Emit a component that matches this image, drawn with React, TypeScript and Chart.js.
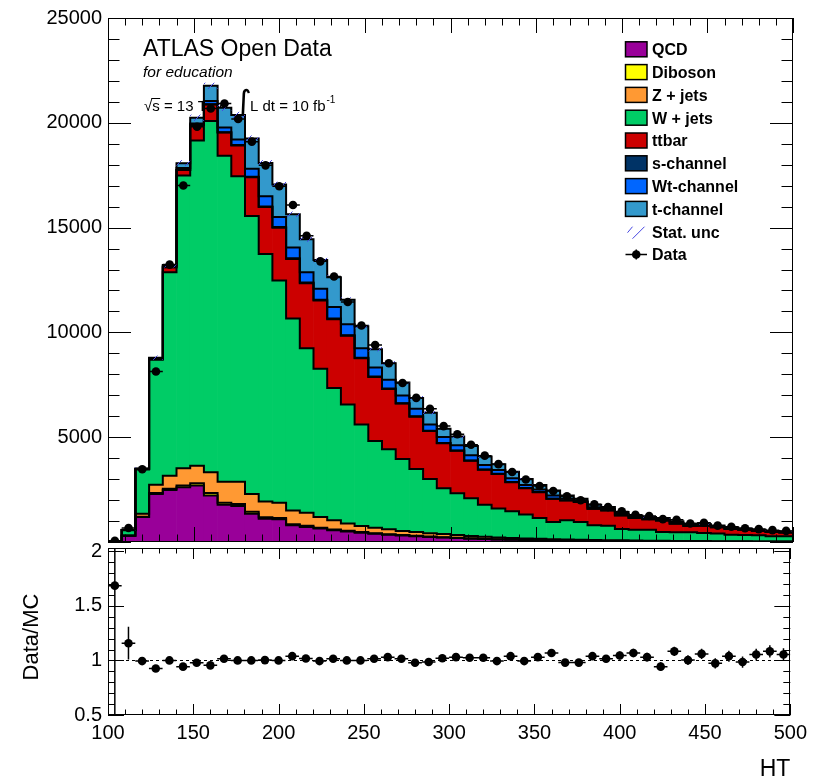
import React, { useEffect, useRef } from "react";
import { Chart, registerables } from "chart.js";

Chart.register(...registerables);

// ---------------- data ----------------
const HT_CENTERS = [
  104, 112, 120, 128, 136, 144, 152, 160, 168, 176,
  184, 192, 200, 208, 216, 224, 232, 240, 248, 256,
  264, 272, 280, 288, 296, 304, 312, 320, 328, 336,
  344, 352, 360, 368, 376, 384, 392, 400, 408, 416,
  424, 432, 440, 448, 456, 464, 472, 480, 488, 496,
];

const QCD = [
  20, 293, 1190, 2296, 2486, 2612, 2690, 2216, 1776, 1714,
  1350, 1113, 1080, 795, 720, 640, 560, 500, 445, 395,
  350, 310, 275, 240, 210, 185, 160, 140, 122, 106,
  92, 80, 70, 61, 53, 46, 40, 35, 30, 26,
  23, 20, 17, 15, 13, 11, 10, 9, 8, 7,
];
const DIBOSON = [
  0, 5, 15, 40, 60, 80, 110, 120, 100, 100,
  90, 70, 65, 55, 50, 45, 40, 35, 30, 28,
  25, 22, 20, 18, 16, 15, 13, 12, 11, 10,
  9, 8, 8, 7, 7, 6, 6, 5, 5, 5,
  4, 4, 4, 3, 3, 3, 3, 3, 2, 2,
];
const ZJETS = [
  3, 15, 145, 400, 617, 821, 837, 988, 1004, 1066,
  856, 749, 725, 656, 627, 508, 432, 345, 285, 257,
  235, 198, 185, 162, 154, 130, 117, 98, 87, 79,
  69, 62, 57, 52, 48, 45, 42, 40, 37, 34,
  31, 28, 26, 24, 22, 20, 18, 16, 15, 14,
];
const WJETS = [
  12, 247, 2110, 5963, 9707, 13967, 15513, 16766, 15550, 14570,
  13259, 11808, 10605, 9159, 7843, 7067, 6318, 5678, 4851, 4140,
  3817, 3424, 3000, 2587, 2186, 2000, 1800, 1525, 1380, 1275,
  1140, 1000, 820, 920, 847, 698, 682, 540, 508, 515,
  422, 413, 413, 388, 372, 306, 299, 292, 255, 252,
];
const TTBAR = [
  0, 8, 20, 45, 237, 265, 744, 786, 1103, 1468,
  1846, 2239, 2523, 2841, 3106, 3267, 3281, 3281, 3158, 3050,
  2874, 2651, 2496, 2287, 2145, 2020, 1785, 1675, 1645, 1380,
  1255, 1225, 1105, 940, 950, 790, 735, 650, 565, 500,
  540, 410, 305, 340, 295, 285, 250, 205, 195, 175,
];
const SCHAN = [
  0, 1, 2, 4, 6, 8, 10, 14, 18, 22,
  26, 28, 30, 30, 30, 30, 30, 28, 26, 24,
  22, 20, 18, 16, 14, 13, 12, 11, 10, 9,
  8, 7, 6, 6, 5, 5, 4, 4, 4, 3,
  3, 3, 3, 2, 2, 2, 2, 2, 2, 2,
];
const WTCHAN = [
  0, 4, 8, 16, 50, 86, 65, 147, 219, 262,
  386, 493, 477, 519, 491, 524, 553, 526, 448, 430,
  419, 359, 360, 301, 285, 254, 256, 209, 178, 181,
  149, 118, 150, 90, 60, 70, 60, 60, 48, 44,
  48, 42, 42, 35, 33, 29, 27, 25, 21, 19,
];
const TCHAN = [
  0, 6, 15, 30, 57, 237, 270, 725, 947, 1170,
  1437, 1577, 1548, 1582, 1581, 1373, 1420, 1170, 1056, 871,
  791, 630, 521, 554, 397, 413, 442, 410, 282, 315,
  283, 220, 239, 139, 90, 115, 96, 96, 73, 68,
  74, 65, 65, 53, 50, 44, 41, 38, 32, 29,
];
const DATA = [
  59, 670, 3470, 8135, 13235, 17010, 19815, 20680, 20920, 20180,
  19100, 17970, 16975, 16075, 14610, 13390, 12665, 11450, 10330, 9400,
  8530, 7585, 6875, 6355, 5530, 5140, 4640, 4120, 3715, 3340,
  2985, 2675, 2430, 2180, 1995, 1800, 1666, 1460, 1300, 1240,
  1090, 1060, 880, 915, 780, 725, 655, 615, 565, 530,
];
const STAT_UNC = [
  8, 30, 60, 100, 120, 140, 150, 150, 150, 150,
  145, 140, 135, 130, 125, 120, 115, 110, 105, 100,
  95, 90, 85, 80, 75, 70, 66, 62, 58, 55,
  52, 49, 46, 44, 42, 40, 38, 36, 34, 32,
  31, 30, 29, 28, 27, 26, 25, 24, 23, 22,
];
const RATIO = [
  1.685, 1.158, 0.994, 0.926, 1.0, 0.943, 0.979, 0.955, 1.015, 1.0,
  1.0, 1.003, 1.0, 1.039, 1.018, 0.994, 1.015, 1.0, 1.0, 1.015,
  1.03, 1.015, 0.979, 0.985, 1.02, 1.03, 1.024, 1.024, 0.994, 1.039,
  0.994, 1.03, 1.068, 0.98, 0.98, 1.039, 1.015, 1.045, 1.068, 1.03,
  0.943, 1.083, 1.003, 1.06, 0.973, 1.039, 0.985, 1.054, 1.083, 1.054,
];
const RATIO_ERR = [
  1.2, 0.15, 0.03, 0.015, 0.012, 0.01, 0.01, 0.01, 0.01, 0.01,
  0.01, 0.01, 0.01, 0.011, 0.012, 0.012, 0.013, 0.013, 0.014, 0.015,
  0.016, 0.017, 0.018, 0.019, 0.02, 0.021, 0.022, 0.023, 0.024, 0.025,
  0.026, 0.027, 0.028, 0.03, 0.031, 0.033, 0.035, 0.037, 0.039, 0.04,
  0.041, 0.043, 0.045, 0.046, 0.048, 0.05, 0.052, 0.054, 0.056, 0.058,
];

const X_TICKS = [100, 150, 200, 250, 300, 350, 400, 450, 500];
const X_TICK_LABELS = ["100", "150", "200", "250", "300", "350", "400", "450", "500"];
const Y_TICKS = [0, 5000, 10000, 15000, 20000, 25000];
const Y_TICK_LABELS = ["", "5000", "10000", "15000", "20000", "25000"];
const RATIO_TICKS = [0.5, 1, 1.5, 2];
const RATIO_TICK_LABELS = ["0.5", "1", "1.5", "2"];

const COMPONENT_LABELS = ["QCD", "Diboson", "Z + jets", "W + jets", "ttbar", "s-channel", "Wt-channel", "t-channel"];
const COMPONENT_VALUES = [QCD, DIBOSON, ZJETS, WJETS, TTBAR, SCHAN, WTCHAN, TCHAN];
const COMPONENT_COLORS = ["#990099", "#ffff00", "#ff9933", "#00cc66", "#cc0000", "#003366", "#0066ff", "#3399cc"];
const EXTRA_LEGEND = ["Stat. unc", "Data"];

const FONT = '"Liberation Sans", Arial, Helvetica, sans-serif';
const HATCH_COLOR = "rgb(70,70,225)";

// ---------------- helpers ----------------
function binEdges(i: number): [number, number] {
  const half = (HT_CENTERS[1] - HT_CENTERS[0]) / 2;
  return [HT_CENTERS[i] - half, HT_CENTERS[i] + half];
}

function makeHatch(ctx: CanvasRenderingContext2D) {
  const c = document.createElement("canvas");
  c.width = 9;
  c.height = 9;
  const g = c.getContext("2d")!;
  g.strokeStyle = HATCH_COLOR;
  g.lineWidth = 1;
  g.beginPath();
  g.moveTo(-1, 10);
  g.lineTo(10, -1);
  g.stroke();
  return ctx.createPattern(c, "repeat")!;
}

type TickCfg = {
  xMin: number; xMax: number; xMinor: number; xMajor: number; xMinorLen: number; xMajorLen: number;
  yMin: number; yMax: number; yMinor: number; yMajor: number; yMinorLen: number; yMajorLen: number;
};

function drawFrameAndTicks(chart: any, o: TickCfg) {
  const { ctx, chartArea: a } = chart;
  const x = chart.scales.x;
  const y = chart.scales.y;
  ctx.save();
  ctx.strokeStyle = "#000";
  ctx.lineWidth = 1;
  ctx.beginPath();
  const nx = Math.round((o.xMax - o.xMin) / o.xMinor);
  for (let i = 0; i <= nx; i++) {
    const v = o.xMin + i * o.xMinor;
    const px = Math.round(x.getPixelForValue(v)) + 0.5;
    const r = (v - o.xMin) / o.xMajor;
    const len = Math.abs(r - Math.round(r)) < 1e-6 ? o.xMajorLen : o.xMinorLen;
    ctx.moveTo(px, a.bottom);
    ctx.lineTo(px, a.bottom - len);
    ctx.moveTo(px, a.top);
    ctx.lineTo(px, a.top + len);
  }
  const ny = Math.round((o.yMax - o.yMin) / o.yMinor);
  for (let i = 0; i <= ny; i++) {
    const v = o.yMin + i * o.yMinor;
    const py = Math.round(y.getPixelForValue(v)) + 0.5;
    const r = (v - o.yMin) / o.yMajor;
    const len = Math.abs(r - Math.round(r)) < 1e-6 ? o.yMajorLen : o.yMinorLen;
    ctx.moveTo(a.left, py);
    ctx.lineTo(a.left + len, py);
    ctx.moveTo(a.right, py);
    ctx.lineTo(a.right - len, py);
  }
  ctx.stroke();
  ctx.strokeRect(Math.round(a.left) + 0.5, Math.round(a.top) + 0.5, Math.round(a.right - a.left) - 1, Math.round(a.bottom - a.top) - 1);
  ctx.restore();
}

// ---------------- plugins ----------------
const DATA_INDEX = COMPONENT_VALUES.length;

const latexPlugin = {
  id: "latexText",
  beforeDatasetsDraw(chart: any) {
    const ctx: CanvasRenderingContext2D = chart.ctx;
    ctx.save();
    ctx.fillStyle = "#000";
    ctx.textAlign = "left";
    ctx.textBaseline = "alphabetic";
    ctx.font = `23px ${FONT}`;
    ctx.fillText("ATLAS Open Data", 143, 56);
    ctx.font = `italic 15.5px ${FONT}`;
    ctx.fillText("for education", 143, 76.5);
    ctx.font = `15px ${FONT}`;
    const x0 = 144;
    const wRad = ctx.measureText("\u221A").width;
    const wS = ctx.measureText("s").width;
    ctx.fillText("\u221As = 13 TeV,", x0, 110.5);
    ctx.strokeStyle = "#000";
    ctx.lineWidth = 1;
    ctx.beginPath();
    ctx.moveTo(x0 + wRad - 1, 98.5);
    ctx.lineTo(x0 + wRad + wS + 0.5, 98.5);
    ctx.stroke();
    ctx.font = `32px "DejaVu Sans", ${FONT}`;
    ctx.fillText("\u222B", 235, 113);
    ctx.font = `15px ${FONT}`;
    const t = "L dt = 10 fb";
    ctx.fillText(t, 250, 110.5);
    const w = ctx.measureText(t).width;
    ctx.font = `10px ${FONT}`;
    ctx.fillText("-1", 250 + w + 1, 103);
    ctx.restore();
  },
};

const stackOutlinePlugin = {
  id: "stackOutline",
  beforeDatasetDraw(chart: any, args: any) {
    if (args.index !== DATA_INDEX) return;
    const { ctx, chartArea: a } = chart;
    const x = chart.scales.x;
    const y = chart.scales.y;
    ctx.save();
    ctx.beginPath();
    ctx.rect(a.left, a.top, a.right - a.left, a.bottom - a.top);
    ctx.clip();
    const n = HT_CENTERS.length;
    const cum = new Array(n).fill(0);
    ctx.strokeStyle = "#000";
    ctx.lineWidth = 2;
    ctx.lineJoin = "miter";
    for (const comp of COMPONENT_VALUES) {
      for (let i = 0; i < n; i++) cum[i] += comp[i];
      ctx.beginPath();
      ctx.moveTo(x.getPixelForValue(binEdges(0)[0]), y.getPixelForValue(0));
      for (let i = 0; i < n; i++) {
        const [lo, hi] = binEdges(i);
        const py = y.getPixelForValue(cum[i]);
        ctx.lineTo(x.getPixelForValue(lo), py);
        ctx.lineTo(x.getPixelForValue(hi), py);
      }
      ctx.lineTo(x.getPixelForValue(binEdges(n - 1)[1]), y.getPixelForValue(0));
      ctx.stroke();
    }
    // statistical uncertainty band (hatched)
    ctx.fillStyle = makeHatch(ctx);
    for (let i = 0; i < n; i++) {
      const [lo, hi] = binEdges(i);
      const x1 = x.getPixelForValue(lo);
      const x2 = x.getPixelForValue(hi);
      const y1 = y.getPixelForValue(cum[i] + STAT_UNC[i]);
      const y2 = y.getPixelForValue(cum[i] - STAT_UNC[i]);
      ctx.fillRect(x1, y1, x2 - x1, y2 - y1);
    }
    ctx.restore();
  },
  afterDatasetsDraw(chart: any) {
    const { ctx } = chart;
    const x = chart.scales.x;
    const y = chart.scales.y;
    ctx.save();
    ctx.strokeStyle = "#000";
    ctx.lineWidth = 1.5;
    ctx.beginPath();
    for (let i = 0; i < HT_CENTERS.length; i++) {
      const [lo, hi] = binEdges(i);
      const py = y.getPixelForValue(DATA[i]);
      ctx.moveTo(x.getPixelForValue(lo), py);
      ctx.lineTo(x.getPixelForValue(hi), py);
    }
    ctx.stroke();
    ctx.restore();
  },
};

const topFramePlugin = {
  id: "topFrame",
  afterDraw(chart: any) {
    drawFrameAndTicks(chart, {
      xMin: 100, xMax: 500, xMinor: 10, xMajor: 50, xMinorLen: 7.5, xMajorLen: 15,
      yMin: 0, yMax: 25000, yMinor: 1000, yMajor: 5000, yMinorLen: 11.5, yMajorLen: 23,
    });
    // legend
    const ctx: CanvasRenderingContext2D = chart.ctx;
    ctx.save();
    const bx = 625.5, bw = 21.5, bh = 15, y0 = 49.3, dy = 22.8;
    ctx.font = `bold 16px ${FONT}`;
    ctx.textAlign = "left";
    ctx.textBaseline = "alphabetic";
    const labels = [...COMPONENT_LABELS, ...EXTRA_LEGEND];
    labels.forEach((lab, i) => {
      const cy = y0 + i * dy;
      if (i < COMPONENT_LABELS.length) {
        ctx.fillStyle = COMPONENT_COLORS[i];
        ctx.fillRect(bx, cy - bh / 2, bw, bh);
        ctx.strokeStyle = "#000";
        ctx.lineWidth = 1.5;
        ctx.strokeRect(bx, cy - bh / 2, bw, bh);
      } else if (lab === "Stat. unc") {
        ctx.strokeStyle = HATCH_COLOR;
        ctx.lineWidth = 1;
        ctx.beginPath();
        ctx.moveTo(bx + 2, cy + 1);
        ctx.lineTo(bx + 7, cy - 5);
        ctx.moveTo(bx + 7, cy + 7);
        ctx.lineTo(bx + 19, cy - 5);
        ctx.stroke();
      } else {
        ctx.strokeStyle = "#000";
        ctx.lineWidth = 1.5;
        ctx.beginPath();
        ctx.moveTo(bx, cy);
        ctx.lineTo(bx + bw, cy);
        ctx.moveTo(bx + bw / 2, cy - 5);
        ctx.lineTo(bx + bw / 2, cy + 5);
        ctx.stroke();
        ctx.fillStyle = "#000";
        ctx.beginPath();
        ctx.arc(bx + bw / 2, cy, 4.3, 0, Math.PI * 2);
        ctx.fill();
      }
      ctx.fillStyle = "#000";
      ctx.fillText(lab, 652, cy + 5.8);
    });
    ctx.restore();
  },
};

const ratioPlugin = {
  id: "ratioDecor",
  beforeDatasetsDraw(chart: any) {
    const { ctx, chartArea: a } = chart;
    const y = chart.scales.y;
    const py = Math.round(y.getPixelForValue(1)) + 0.5;
    ctx.save();
    ctx.strokeStyle = "#000";
    ctx.lineWidth = 1;
    ctx.setLineDash([3, 3]);
    ctx.beginPath();
    ctx.moveTo(a.left, py);
    ctx.lineTo(a.right, py);
    ctx.stroke();
    ctx.restore();
  },
  afterDatasetsDraw(chart: any) {
    const { ctx, chartArea: a } = chart;
    const x = chart.scales.x;
    const y = chart.scales.y;
    ctx.save();
    ctx.beginPath();
    ctx.rect(a.left, a.top, a.right - a.left, a.bottom - a.top);
    ctx.clip();
    ctx.strokeStyle = "#000";
    ctx.lineWidth = 1.5;
    ctx.beginPath();
    for (let i = 0; i < HT_CENTERS.length; i++) {
      const [lo, hi] = binEdges(i);
      const px = x.getPixelForValue(HT_CENTERS[i]);
      const py = y.getPixelForValue(RATIO[i]);
      ctx.moveTo(x.getPixelForValue(lo), py);
      ctx.lineTo(x.getPixelForValue(hi), py);
      ctx.moveTo(px, y.getPixelForValue(RATIO[i] + RATIO_ERR[i]));
      ctx.lineTo(px, y.getPixelForValue(RATIO[i] - RATIO_ERR[i]));
    }
    ctx.stroke();
    ctx.restore();
  },
  afterDraw(chart: any) {
    drawFrameAndTicks(chart, {
      xMin: 100, xMax: 500, xMinor: 10, xMajor: 50, xMinorLen: 5.5, xMajorLen: 11,
      yMin: 0.5, yMax: 2, yMinor: 0.1, yMajor: 0.5, yMinorLen: 7, yMajorLen: 16,
    });
    const ctx: CanvasRenderingContext2D = chart.ctx;
    ctx.save();
    ctx.fillStyle = "#000";
    ctx.font = `23px ${FONT}`;
    ctx.textAlign = "right";
    ctx.textBaseline = "alphabetic";
    ctx.fillText("HT", chart.chartArea.right, 246);
    ctx.translate(38, 637 - 530);
    ctx.rotate(-Math.PI / 2);
    ctx.textAlign = "center";
    ctx.font = `22px ${FONT}`;
    ctx.fillText("Data/MC", 0, 0);
    ctx.restore();
  },
};

// ---------------- component ----------------
export default function App() {
  const topRef = useRef<HTMLCanvasElement>(null);
  const ratioRef = useRef<HTMLCanvasElement>(null);

  useEffect(() => {
    const barSets = COMPONENT_VALUES.map((vals, k) => ({
      type: "bar" as const,
      label: COMPONENT_LABELS[k],
      data: vals.map((v, i) => ({ x: HT_CENTERS[i], y: v })),
      backgroundColor: COMPONENT_COLORS[k],
      borderWidth: 0,
      barPercentage: 1,
      categoryPercentage: 1,
      stack: "mc",
      order: 1,
    }));
    const dataSet = {
      type: "scatter" as const,
      label: "Data",
      data: DATA.map((v, i) => ({ x: HT_CENTERS[i], y: v })),
      pointRadius: 4.3,
      pointBackgroundColor: "#000",
      pointBorderWidth: 0,
      borderColor: "#000",
      order: 0,
    };

    const top = new Chart(topRef.current!, {
      type: "bar",
      data: { datasets: [...barSets, dataSet] as any },
      options: {
        animation: false,
        responsive: false,
        devicePixelRatio: 1,
        layout: { padding: { left: 8, right: 20, top: 14.5, bottom: 16.5 } },
        plugins: { legend: { display: false }, tooltip: { enabled: false } },
        scales: {
          x: { type: "linear", min: 100, max: 500, offset: false, display: false, stacked: true },
          y: {
            type: "linear",
            min: 0,
            max: 25000,
            afterBuildTicks: (s: any) => { s.ticks = Y_TICKS.map((v) => ({ value: v })); },
            afterFit: (s: any) => { s.width = 100; },
            ticks: {
              color: "#000",
              font: { family: FONT, size: 20 },
              padding: 6,
              callback: (_v: any, i: number) => Y_TICK_LABELS[i],
            },
            grid: { display: false, drawTicks: false },
            border: { display: false },
          },
        },
      } as any,
      plugins: [latexPlugin, stackOutlinePlugin, topFramePlugin],
    });

    const ratio = new Chart(ratioRef.current!, {
      type: "scatter",
      data: {
        datasets: [
          {
            label: "Data/MC",
            data: RATIO.map((v, i) => ({ x: HT_CENTERS[i], y: v })),
            pointRadius: 4.3,
            pointBackgroundColor: "#000",
            pointBorderWidth: 0,
            borderColor: "#000",
          },
        ],
      },
      options: {
        animation: false,
        responsive: false,
        devicePixelRatio: 1,
        layout: { padding: { left: 8, right: 20, top: 13.5, bottom: 0 } },
        plugins: { legend: { display: false }, tooltip: { enabled: false } },
        scales: {
          x: {
            type: "linear",
            min: 100,
            max: 500,
            offset: false,
            afterBuildTicks: (s: any) => { s.ticks = X_TICKS.map((v) => ({ value: v })); },
            afterFit: (s: any) => { s.height = 63; },
            ticks: {
              autoSkip: false,
              maxRotation: 0,
              color: "#000",
              font: { family: FONT, size: 20 },
              padding: 6,
              callback: (_v: any, i: number) => X_TICK_LABELS[i],
            },
            grid: { display: false, drawTicks: false },
            border: { display: false },
          },
          y: {
            type: "linear",
            min: 0.5,
            max: 2.03,
            afterBuildTicks: (s: any) => { s.ticks = RATIO_TICKS.map((v) => ({ value: v })); },
            afterFit: (s: any) => { s.width = 100; },
            ticks: {
              color: "#000",
              font: { family: FONT, size: 20 },
              padding: 6,
              callback: (_v: any, i: number) => RATIO_TICK_LABELS[i],
            },
            grid: { display: false, drawTicks: false },
            border: { display: false },
          },
        },
      } as any,
      plugins: [ratioPlugin],
    });

    return () => {
      top.destroy();
      ratio.destroy();
    };
  }, []);

  return (
    <div style={{ position: "absolute", left: 0, top: 0, width: 813, height: 778, background: "#fff", overflow: "hidden" }}>
      <canvas ref={topRef} width={813} height={560} style={{ position: "absolute", left: 0, top: 0, width: 813, height: 560 }} />
      <canvas ref={ratioRef} width={813} height={248} style={{ position: "absolute", left: 0, top: 530, width: 813, height: 248 }} />
    </div>
  );
}
